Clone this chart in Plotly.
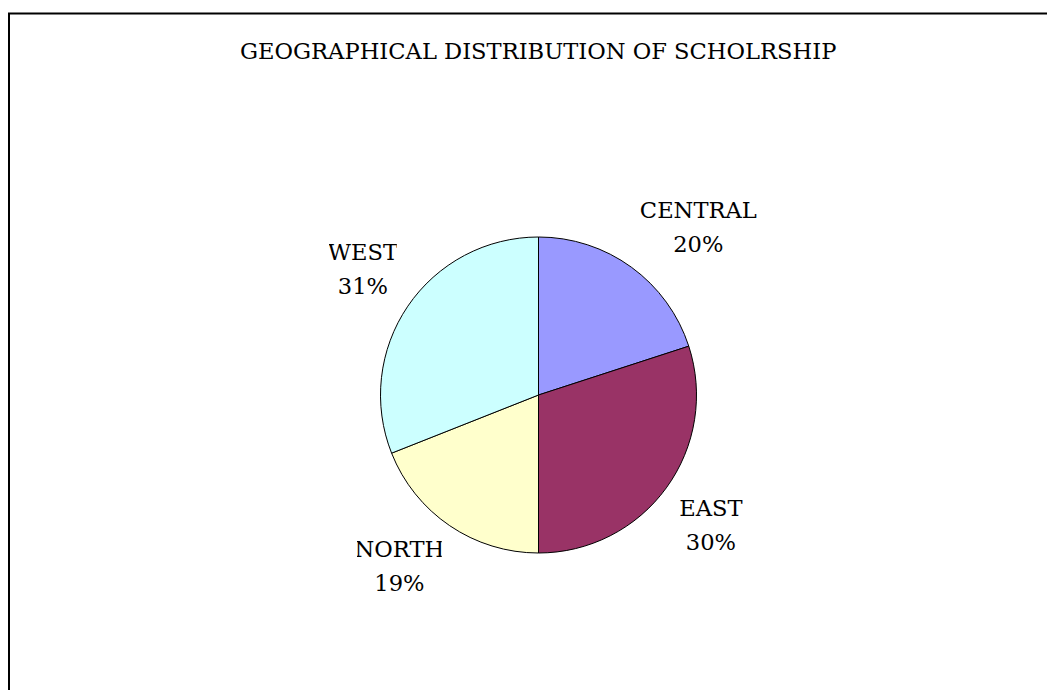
import math
import plotly.graph_objects as go

regions = ["CENTRAL", "EAST", "NORTH", "WEST"]
shares = [20, 30, 19, 31]
colors = ["#9999FF", "#993366", "#FFFFCC", "#CCFFFF"]
title_text = "GEOGRAPHICAL DISTRIBUTION OF SCHOLRSHIP"

OFF = 8  # default page body margin
W, H = 1055 - OFF, 690 - OFF
cx, cy, r = 538.5 - OFF, 395 - OFF, 158
FONT = "DejaVu Serif"
FS = 22.6
LABEL_R = 170
LINE_GAP = 34
BLOCK_H = 60
CHAR_W = 0.75 * FS


def px(x):
    return x / W


def py(y):
    return 1 - y / H


fig = go.Figure(go.Pie(
    labels=regions, values=shares, sort=False, direction="clockwise", rotation=0,
    marker=dict(colors=colors, line=dict(color="black", width=1)),
    textinfo="none", hoverinfo="label+percent", showlegend=False,
    domain=dict(x=[px(cx - r), px(cx + r)], y=[py(cy + r), py(cy - r)]),
))

total = sum(shares)
cum = 0
annots = []
for lab, v in zip(regions, shares):
    mid = (cum + v / 2) / total * 2 * math.pi
    cum += v
    s, c = math.sin(mid), math.cos(mid)
    ax = cx + LABEL_R * s
    ay = cy - LABEL_R * c
    bc = ay - (BLOCK_H / 2) * (1 if c > 0 else -1)
    xa = "left" if s > 0 else "right"
    pct = f"{round(v / total * 100)}%"
    bw = CHAR_W * max(len(lab), len(pct))
    for txt, yy in ((lab, bc - LINE_GAP / 2), (pct, bc + LINE_GAP / 2)):
        annots.append(dict(x=px(ax), y=py(yy), xref="paper", yref="paper", text=txt,
                           showarrow=False, xanchor=xa, yanchor="middle", width=bw,
                           align="center", borderpad=0,
                           font=dict(family=FONT, size=FS, color="black")))

annots.append(dict(x=px(538 - OFF), y=py(51.5 - OFF), xref="paper", yref="paper", text=title_text,
                   showarrow=False, yanchor="middle",
                   font=dict(family=FONT, size=FS, color="black")))

fig.update_layout(
    width=W, height=H, margin=dict(l=0, r=0, t=0, b=0),
    paper_bgcolor="white", plot_bgcolor="white",
    annotations=annots,
    shapes=[dict(type="rect", xref="paper", yref="paper", x0=px(9 - OFF), x1=1.05,
                 y0=-0.05, y1=py(13.5 - OFF), line=dict(color="black", width=2))],
)
fig.write_html("out.html")
